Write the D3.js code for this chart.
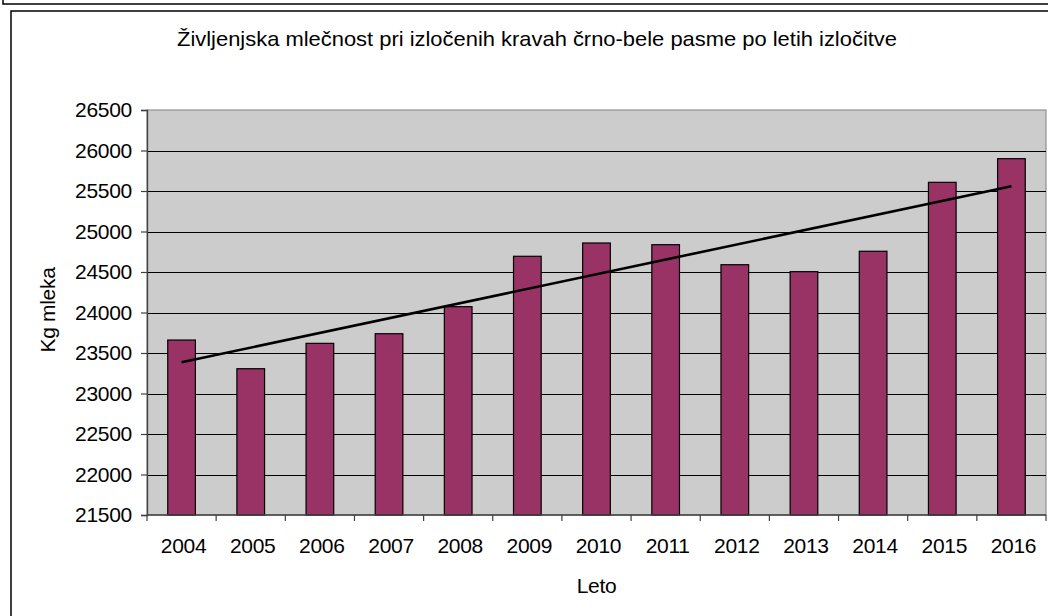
<!DOCTYPE html>
<html>
<head>
<meta charset="utf-8">
<script src="https://cdn.jsdelivr.net/npm/d3@7"></script>
<style>
  html, body { margin: 0; padding: 0; background: #fff; }
  svg { display: block; }
  text { font-family: "Liberation Sans", Arial, sans-serif; fill: #000; }
</style>
</head>
<body>
<svg id="chart" width="1048" height="616"></svg>
<script>
// Life-time milk yield of culled Black-and-White cows, by year of culling
const years = ["2004", "2005", "2006", "2007", "2008", "2009", "2010",
               "2011", "2012", "2013", "2014", "2015", "2016"];
const milkKg = [23660, 23306, 23619, 23738, 24072, 24694, 24858,
                24837, 24590, 24504, 24756, 25607, 25899];
const yTicks = [21500, 22000, 22500, 23000, 23500, 24000,
                24500, 25000, 25500, 26000, 26500];

const titleText = "Življenjska mlečnost pri izločenih kravah črno-bele pasme po letih izločitve";
const yTitle = "Kg mleka";
const xTitle = "Leto";

const svg = d3.select("#chart");
const plot = { left: 147, right: 1046, top: 110, bottom: 515 };
const fontSize = 21;

// Outer frames
svg.append("path")
  .attr("d", "M3,0 V4 H1048")
  .attr("fill", "none").attr("stroke", "#000").attr("stroke-width", 1.5);
svg.append("path")
  .attr("d", "M11,616 V11 H1048")
  .attr("fill", "none").attr("stroke", "#000").attr("stroke-width", 1.5);

const x = d3.scaleBand()
  .domain(years)
  .range([plot.left, plot.right])
  .paddingInner(0.6)
  .paddingOuter(0.3);

const y = d3.scaleLinear()
  .domain([d3.min(yTicks), d3.max(yTicks)])
  .range([plot.bottom, plot.top]);

// Plot area background
svg.append("rect")
  .attr("x", plot.left).attr("y", plot.top)
  .attr("width", plot.right - plot.left).attr("height", plot.bottom - plot.top)
  .attr("fill", "#cccccc")
  .attr("stroke", "#808080").attr("stroke-width", 1);

// Horizontal gridlines
svg.append("g")
  .selectAll("line")
  .data(yTicks.slice(1, -1))
  .join("line")
  .attr("x1", plot.left).attr("x2", plot.right)
  .attr("y1", d => Math.round(y(d)) + 0.5).attr("y2", d => Math.round(y(d)) + 0.5)
  .attr("stroke", "#000").attr("stroke-width", 1);

// Bars
svg.append("g")
  .selectAll("rect")
  .data(years.map((yr, i) => ({ yr, v: milkKg[i] })))
  .join("rect")
  .attr("x", d => x(d.yr))
  .attr("y", d => y(d.v))
  .attr("width", x.bandwidth())
  .attr("height", d => y(y.domain()[0]) - y(d.v))
  .attr("fill", "#993366")
  .attr("stroke", "#000").attr("stroke-width", 1.2);

// Linear trend line (least squares over the yearly values)
const idx = d3.range(milkKg.length);
const mx = d3.mean(idx), my = d3.mean(milkKg);
const slope = d3.sum(idx, i => (i - mx) * (milkKg[i] - my)) / d3.sum(idx, i => (i - mx) ** 2);
const icpt = my - slope * mx;
const cx = i => x(years[i]) + x.bandwidth() / 2;
svg.append("line")
  .attr("x1", cx(0)).attr("y1", y(icpt))
  .attr("x2", cx(years.length - 1)).attr("y2", y(icpt + slope * (years.length - 1)))
  .attr("stroke", "#000").attr("stroke-width", 2.6);

// Y axis
const yAxis = svg.append("g")
  .attr("transform", `translate(${plot.left},0)`)
  .call(d3.axisLeft(y).tickValues(yTicks).tickSize(6).tickPadding(9).tickFormat(d3.format("d")));
yAxis.select(".domain").attr("stroke", "#404040").attr("stroke-width", 1.3);
yAxis.selectAll(".tick line").attr("stroke", "#404040").attr("stroke-width", 1.2);
yAxis.selectAll(".tick text")
  .attr("font-size", fontSize).attr("font-family", "Liberation Sans, Arial, sans-serif")
  .attr("letter-spacing", "-0.3");

// X axis: ticks between categories
const step = x.step();
const bounds = d3.range(years.length + 1).map(i => plot.left + i * step);
const xg = svg.append("g");
xg.append("line")
  .attr("x1", plot.left).attr("x2", plot.right)
  .attr("y1", plot.bottom).attr("y2", plot.bottom)
  .attr("stroke", "#404040").attr("stroke-width", 1.3);
xg.selectAll("line.tk")
  .data(bounds)
  .join("line").attr("class", "tk")
  .attr("x1", d => d).attr("x2", d => d)
  .attr("y1", plot.bottom).attr("y2", plot.bottom + 6)
  .attr("stroke", "#404040").attr("stroke-width", 1.2);
xg.selectAll("text")
  .data(years)
  .join("text")
  .attr("x", d => x(d) + x.bandwidth() / 2 + 2)
  .attr("y", 553)
  .attr("text-anchor", "middle")
  .attr("font-size", fontSize)
  .attr("letter-spacing", "-0.3")
  .text(d => d);

// Titles
svg.append("text")
  .attr("x", 537).attr("y", 46)
  .attr("text-anchor", "middle")
  .attr("font-size", fontSize)
  .attr("textLength", 720)
  .attr("lengthAdjust", "spacingAndGlyphs")
  .text(titleText);

svg.append("text")
  .attr("transform", "translate(55,310) rotate(-90)")
  .attr("text-anchor", "middle")
  .attr("font-size", fontSize)
  .attr("letter-spacing", "-0.3")
  .text(yTitle);

svg.append("text")
  .attr("x", (plot.left + plot.right) / 2).attr("y", 593)
  .attr("text-anchor", "middle")
  .attr("font-size", fontSize)
  .attr("letter-spacing", "-0.3")
  .text(xTitle);
</script>
</body>
</html>
